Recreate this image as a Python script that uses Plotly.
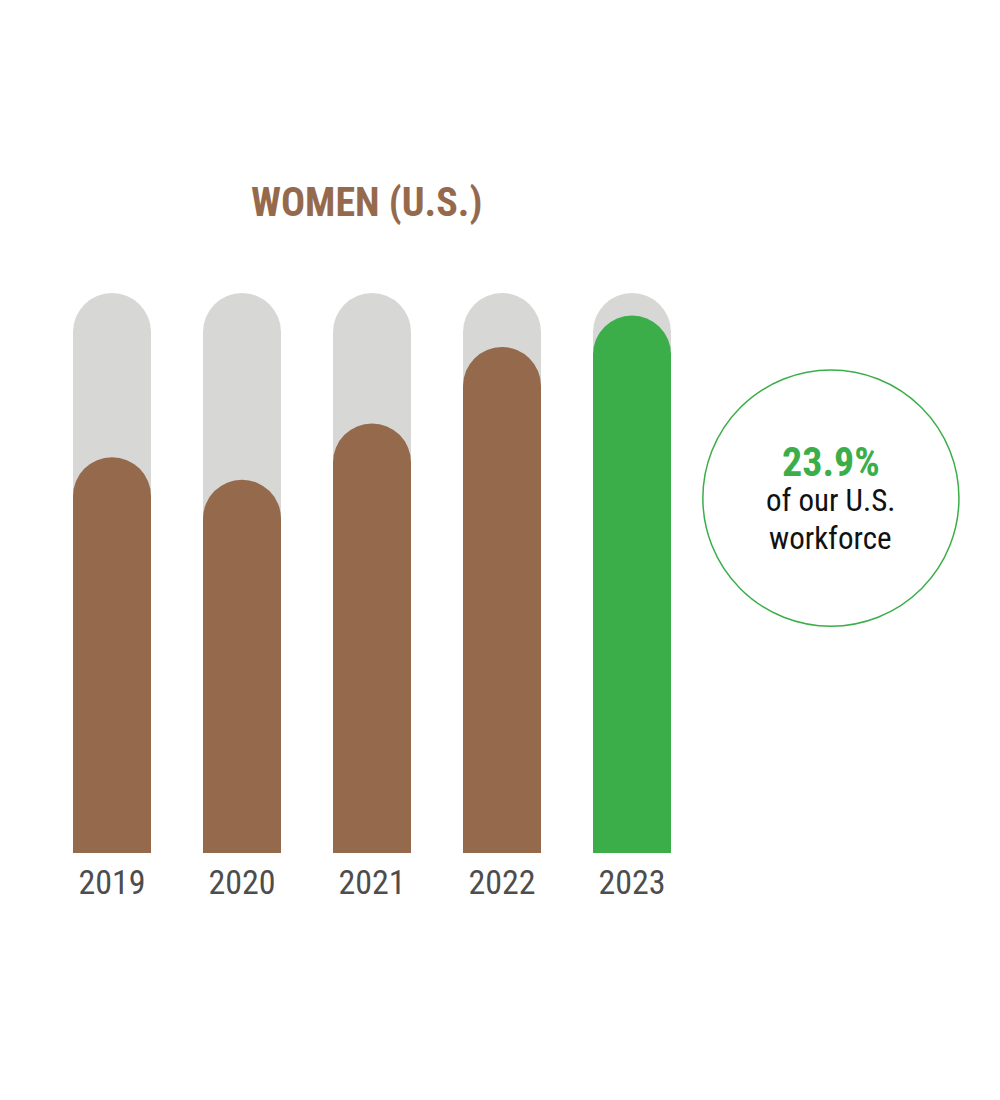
import plotly.graph_objects as go

years = ["2019", "2020", "2021", "2022", "2023"]
women_pct = [17.6, 16.6, 19.1, 22.5, 23.9]
max_pct = [24.9, 24.9, 24.9, 24.9, 24.9]
bar_colors = ["#956A4C", "#956A4C", "#956A4C", "#956A4C", "#3BAE49"]

COND = "Roboto Condensed, Liberation Sans Narrow, DejaVu Sans Condensed, Arial Narrow, sans-serif"

fig = go.Figure()
fig.add_trace(go.Bar(x=years, y=max_pct, width=0.6,
                     marker=dict(color="#D7D7D6", cornerradius="50%", line=dict(width=0)),
                     hoverinfo="skip", showlegend=False))
fig.add_trace(go.Bar(x=years, y=women_pct, width=0.6, xaxis="x2",
                     marker=dict(color=bar_colors, cornerradius="50%", line=dict(width=0)),
                     showlegend=False))

fig.update_layout(
    width=1000, height=1100,
    margin=dict(l=47, r=303, t=293, b=247),
    paper_bgcolor="white", plot_bgcolor="white",
    barmode="group",
    xaxis=dict(showgrid=False, zeroline=False, showline=False, ticks="",
               tickfont=dict(family=COND, size=34, color="#4D4D4D"), ticklabelstandoff=6),
    xaxis2=dict(overlaying="x", matches="x", visible=False, showgrid=False, zeroline=False),
    yaxis=dict(range=[0, 24.9], visible=False, showgrid=False, zeroline=False),
    shapes=[dict(type="circle", xref="paper", yref="paper", x0=1.009, x1=1.403, y0=0.405, y1=0.8625,
                 line=dict(color="#3BAE49", width=1.5))],
    annotations=[
        dict(text="<b>WOMEN (U.S.)</b>", xref="paper", yref="paper", x=0.491, y=1.161, showarrow=False,
             font=dict(family=COND, size=40, color="#956A4C"), xanchor="center", yanchor="middle"),
        dict(text="<b>23.9%</b>", xref="paper", yref="paper", x=1.206, y=0.698, showarrow=False,
             font=dict(family=COND, size=40, color="#3BAE49"), xanchor="center", yanchor="middle"),
        dict(text="of our U.S.", xref="paper", yref="paper", x=1.206, y=0.630, showarrow=False,
             font=dict(family=COND, size=31, color="#111111"), xanchor="center", yanchor="middle"),
        dict(text="workforce", xref="paper", yref="paper", x=1.206, y=0.5625, showarrow=False,
             font=dict(family=COND, size=31, color="#111111"), xanchor="center", yanchor="middle"),
    ],
)
fig.write_html("out.html")
